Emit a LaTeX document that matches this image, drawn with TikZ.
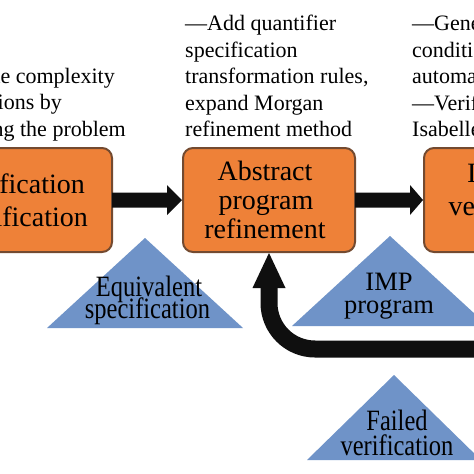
\documentclass[tikz,border=0pt]{standalone}
\usepackage{fontspec}
\setmainfont{Liberation Serif}
\newfontfamily\condserif[FakeStretch=0.83]{Liberation Serif}
\usetikzlibrary{calc}
\definecolor{boxorange}{RGB}{238,129,56}
\definecolor{boxedge}{RGB}{115,74,48}
\definecolor{triblue}{RGB}{111,147,200}
\definecolor{arrowblack}{RGB}{15,15,15}
\begin{document}
\begin{tikzpicture}[x=1pt,y=-1pt,
  procbox/.style={draw=boxedge, line width=2pt, fill=boxorange, rounded corners=10pt,
    minimum width=172pt, minimum height=104pt, inner sep=0pt},
  boxtext/.style={font=\fontsize{28}{29}\selectfont, inner sep=0pt, text=black},
  notetext/.style={font=\fontsize{22}{26.5}\selectfont, inner sep=0pt, align=left, text=black},
  edgenote/.style={font=\fontsize{22}{26.5}\selectfont, inner sep=0pt, text=black},
  tri/.style={fill=triblue},
  tritext/.style={font=\condserif\fontsize{29.5}{22}\selectfont, inner sep=0pt, text=black},
  imptext/.style={font=\fontsize{26.5}{23}\selectfont, inner sep=0pt, text=black},
  blockarrow/.style={fill=arrowblack},
]
\useasboundingbox (0,0) rectangle (474,474);
\clip (0,0) rectangle (474,474);
\fill[white] (0,0) rectangle (474,474);

% process boxes
\node[procbox] (spec) at (26,200) {};
\node[procbox] (absr) at (269,200) {};
\node[procbox] (verif) at (510,200) {};

% box texts
\node[boxtext, anchor=base east] (sp1) at (85,193) {Specification};
\node[boxtext, anchor=base east] (sp2) at (88,226) {simplification};
\node[boxtext, anchor=base] (ab1) at (265,180) {Abstract};
\node[boxtext, anchor=base] (ab2) at (266,209) {program};
\node[boxtext, anchor=base] (ab3) at (265,238) {refinement};
\node[boxtext, anchor=base west] (vr1) at (467,182) {Isabelle};
\node[boxtext, anchor=base west] (vr2) at (448.5,215) {verification};

% block arrows between boxes
\fill[blockarrow] ($(spec.east)+(-1,-7.5)$) -- ($(absr.west)+(-15,-7.5)$) -- ($(absr.west)+(-15,-15)$)
  -- (absr.west) -- ($(absr.west)+(-15,15)$) -- ($(absr.west)+(-15,7.5)$) -- ($(spec.east)+(-1,7.5)$) -- cycle;
\fill[blockarrow] ($(absr.east)+(-1,-7.5)$) -- ($(verif.west)+(-13,-7.5)$) -- ($(verif.west)+(-13,-15)$)
  -- (verif.west) -- ($(verif.west)+(-13,15)$) -- ($(verif.west)+(-13,7.5)$) -- ($(absr.east)+(-1,7.5)$) -- cycle;

% feedback arrow
\coordinate (fbstart) at (490,349);
\draw[arrowblack, line width=17pt, rounded corners=46pt] (fbstart) -| ($(absr.south)+(0,30)$);
\fill[blockarrow] ($(absr.south)+(-16.5,35)$) -- (absr.south) -- ($(absr.south)+(16.5,35)$) -- cycle;

% triangles
\fill[tri] (47,328) -- (145,238) -- (243,328) -- cycle;
\fill[tri] (292,326) -- (390,236) -- (488,326) -- cycle;
\fill[tri] (307,460) -- (394,375) -- (481,460) -- cycle;
\node[tritext, anchor=base] (eq1) at (149,296) {Equivalent};
\node[tritext, anchor=base] (eq2) at (147.5,318.5) {specification};
\node[imptext, anchor=base] (imp1) at (389,290) {IMP};
\node[imptext, anchor=base] (imp2) at (389,313.5) {program};
\node[tritext, anchor=base] (fv1) at (397,430) {Failed};
\node[tritext, anchor=base] (fv2) at (397,455.5) {verification};

% notes
\node[edgenote, anchor=base east] (l1) at (115,83) {the complexity};
\node[edgenote, anchor=base east] (l2) at (62,109.5) {of specifications by};
\node[edgenote, anchor=base east] (l3) at (126,136) {decomposing the problem};
\node[notetext, anchor=north west] (n1) at (185,15) {—Add quantifier\\specification\\transformation rules,\\expand Morgan\\refinement method};
\node[notetext, anchor=north west] (n2) at (412,15) {—Generate verification\\conditions\\automatically\\—Verify with\\Isabelle};
\end{tikzpicture}
\end{document}
